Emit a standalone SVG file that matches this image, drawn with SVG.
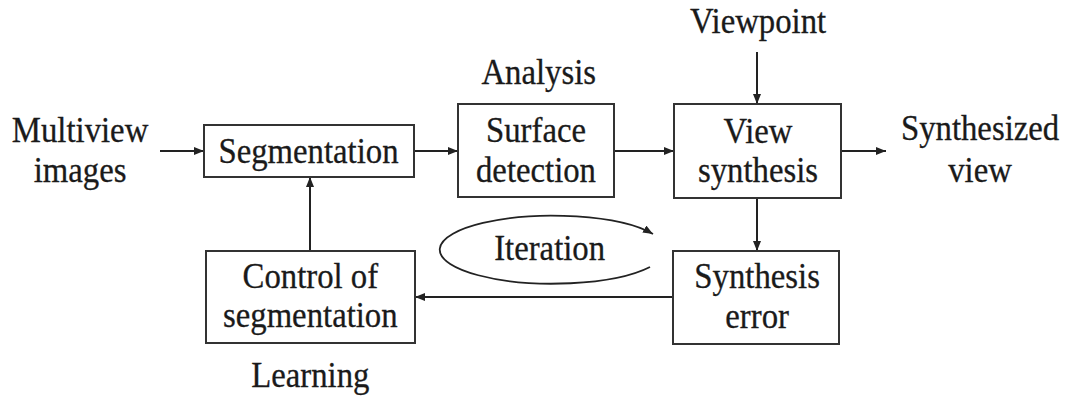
<svg xmlns="http://www.w3.org/2000/svg" width="1068" height="396" viewBox="0 0 1068 396">
  <defs>
    <marker id="arrow" viewBox="0 0 10 8" refX="10" refY="4" markerWidth="10" markerHeight="8" markerUnits="userSpaceOnUse" orient="auto">
      <path d="M0,0 L10,4 L0,8 Z" fill="#222"/>
    </marker>
  </defs>
  <style>
    .box { fill: #fff; stroke: #333; stroke-width: 2; }
    .edge { fill: none; stroke: #222; stroke-width: 2; marker-end: url(#arrow); }
    .loop { fill: none; stroke: #222; stroke-width: 1.8; }
    .lbl { font-family: "Liberation Serif", "Times New Roman", serif; font-size: 36px; fill: #1a1a1a; stroke: #1a1a1a; stroke-width: 0.3; text-anchor: middle; }
  </style>
  <rect width="1068" height="396" fill="#fff"/>

  <!-- connectors -->
  <g id="connectors">
    <line class="edge" x1="160" y1="151" x2="204" y2="151"/>
    <line class="edge" x1="414" y1="151" x2="458" y2="151"/>
    <line class="edge" x1="614" y1="151" x2="674" y2="151"/>
    <line class="edge" x1="841" y1="151" x2="886" y2="151"/>
    <line class="edge" x1="757" y1="52" x2="757" y2="104"/>
    <line class="edge" x1="757" y1="198" x2="757" y2="251"/>
    <line class="edge" x1="673" y1="297" x2="415" y2="297"/>
    <line class="edge" x1="310" y1="251" x2="310" y2="177"/>
    <path class="loop" d="M 650 267 A 113 34 0 1 1 653 234" marker-end="url(#arrow)"/>
  </g>

  <!-- boxes -->
  <g id="segmentation">
    <rect class="box" x="204" y="125" width="210" height="52"/>
  </g>
  <g id="surface-detection">
    <rect class="box" x="458" y="104" width="156" height="93"/>
  </g>
  <g id="view-synthesis">
    <rect class="box" x="674" y="104" width="167" height="94"/>
  </g>
  <g id="synthesis-error">
    <rect class="box" x="673" y="251" width="166" height="93"/>
  </g>
  <g id="control-of-segmentation">
    <rect class="box" x="206" y="251" width="209" height="92"/>
  </g>

  <!-- labels, set in a slightly condensed serif -->
  <g transform="scale(0.91 1)">
    <text class="lbl" x="88" y="142">Multiview</text>
    <text class="lbl" x="88" y="182">images</text>
    <text class="lbl" x="339" y="163">Segmentation</text>
    <text class="lbl" x="592" y="84">Analysis</text>
    <text class="lbl" x="589" y="142">Surface</text>
    <text class="lbl" x="589" y="182">detection</text>
    <text class="lbl" x="833" y="33">Viewpoint</text>
    <text class="lbl" x="833" y="143">View</text>
    <text class="lbl" x="833" y="182">synthesis</text>
    <text class="lbl" x="1077" y="140">Synthesized</text>
    <text class="lbl" x="1077" y="182">view</text>
    <text class="lbl" x="832" y="288">Synthesis</text>
    <text class="lbl" x="832" y="328">error</text>
    <text class="lbl" x="341" y="288">Control of</text>
    <text class="lbl" x="341" y="327">segmentation</text>
    <text class="lbl" x="604" y="260">Iteration</text>
    <text class="lbl" x="341" y="387">Learning</text>
  </g>
</svg>
